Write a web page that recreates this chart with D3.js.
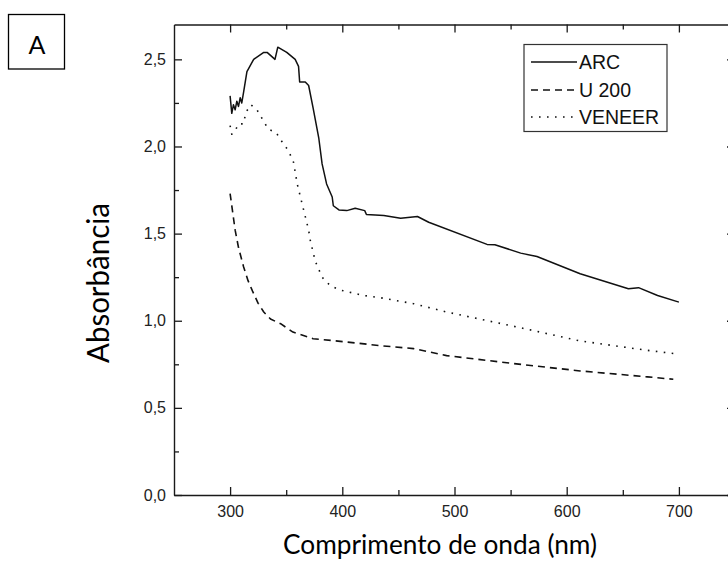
<!DOCTYPE html>
<html><head><meta charset="utf-8">
<script src="https://cdn.jsdelivr.net/npm/d3@7"></script>
<style>body{margin:0;background:#fff}svg{display:block}</style>
</head><body><svg id="c" width="728" height="581"></svg>
<script>
// ---- data ----
const arcWavelength = [300,301.5,303,304.5,306,307.5,309,310.4,312,315,321,330,333,340,342.5,350.5,358,361,362,367,370,374,379,382,386,391,392,397,404,411.5,420,421.5,437,452,467,477,529,536,559,573.5,612,655,664,681,700];
const arcAbs = [2.29,2.19,2.24,2.21,2.26,2.23,2.28,2.25,2.31,2.43,2.50,2.54,2.54,2.50,2.57,2.54,2.50,2.46,2.37,2.37,2.35,2.22,2.05,1.90,1.785,1.71,1.66,1.636,1.632,1.646,1.632,1.61,1.604,1.588,1.598,1.565,1.438,1.436,1.388,1.369,1.27,1.184,1.19,1.145,1.107];
const u200Wavelength = [300,304.5,307.5,312,316,320,325,330,336,345,356,374,404,434,463.5,493,553,612,672,695];
const u200Abs = [1.73,1.52,1.42,1.31,1.23,1.17,1.10,1.05,1.01,0.983,0.935,0.897,0.878,0.857,0.84,0.80,0.754,0.712,0.678,0.664];
const veneerWavelength = [300,301.5,304.5,307.5,312,314,318.5,324,334,341,347,352,356.5,360,365,370,371.5,376,382,389,397,419,434,463.5,493,553,612,672,700];
const veneerAbs = [2.12,2.07,2.09,2.13,2.13,2.195,2.24,2.21,2.10,2.08,2.02,1.976,1.91,1.78,1.65,1.52,1.46,1.34,1.25,1.203,1.178,1.145,1.132,1.098,1.05,0.968,0.884,0.83,0.808];
const seriesNames = ["ARC","U 200","VENEER"];
const xTickValues = [300,400,500,600,700];
const xMinorTicks = [350,450,550,650,750];
const yTickValues = [0,0.5,1.0,1.5,2.0,2.5];
const yTickLabels = ["0,0","0,5","1,0","1,5","2,0","2,5"];
const yMinorTicks = [0.25,0.75,1.25,1.75,2.25];
const xTitle = "Comprimento de onda (nm)";
const yTitle = "Absorbância";
const panelLabel = "A";

// ---- layout ----
const L = 174, R = 735, T = 24.5, B = 495;
const svg = d3.select("#c");
const x = d3.scaleLinear().domain([250, 750]).range([L, R]);
const y = d3.scaleLinear().domain([0, 2.7]).range([B, T]);
const tickFont = "'Liberation Sans', Arial, sans-serif";
const axisColor = "#1a1a1a";

function style(g){
  g.selectAll("path.domain").attr("stroke", axisColor).attr("stroke-width", 1.4);
  g.selectAll(".tick line").attr("stroke", axisColor).attr("stroke-width", 1.3);
  g.selectAll("text").attr("font-family", tickFont).attr("font-size", 16).attr("fill", "#222");
}
// bottom
const gb = svg.append("g").attr("transform", `translate(0,${B})`)
  .call(d3.axisBottom(x).tickValues(xTickValues).tickSize(-8).tickSizeOuter(0).tickPadding(11).tickFormat(d3.format("d")));
style(gb);
svg.append("g").attr("transform", `translate(0,${B})`)
  .call(d3.axisBottom(x).tickValues(xMinorTicks).tickSize(-5).tickSizeOuter(0).tickFormat("")).call(style)
  .select("path.domain").remove();
// top
svg.append("g").attr("transform", `translate(0,${T})`)
  .call(d3.axisTop(x).tickValues(xTickValues).tickSize(-8).tickSizeOuter(0).tickFormat("")).call(style);
svg.append("g").attr("transform", `translate(0,${T})`)
  .call(d3.axisTop(x).tickValues(xMinorTicks).tickSize(-5).tickSizeOuter(0).tickFormat("")).call(style)
  .select("path.domain").remove();
// left
const gl = svg.append("g").attr("transform", `translate(${L},0)`)
  .call(d3.axisLeft(y).tickValues(yTickValues).tickSize(-8).tickSizeOuter(0).tickPadding(8)
    .tickFormat((d,i) => yTickLabels[i]));
style(gl);
svg.append("g").attr("transform", `translate(${L},0)`)
  .call(d3.axisLeft(y).tickValues(yMinorTicks).tickSize(-5).tickSizeOuter(0).tickFormat("")).call(style)
  .select("path.domain").remove();
// right
svg.append("g").attr("transform", `translate(${R},0)`)
  .call(d3.axisRight(y).tickValues(yTickValues).tickSize(-8).tickSizeOuter(0).tickFormat("")).call(style);
svg.append("g").attr("transform", `translate(${R},0)`)
  .call(d3.axisRight(y).tickValues(yMinorTicks).tickSize(-5).tickSizeOuter(0).tickFormat("")).call(style)
  .select("path.domain").remove();

// ---- series ----
const line = d3.line().x(d => x(d[0])).y(d => y(d[1]));
const series = [
  {name: seriesNames[0], xs: arcWavelength, ys: arcAbs, dash: null, w: 1.5},
  {name: seriesNames[1], xs: u200Wavelength, ys: u200Abs, dash: "7,5", w: 1.6},
  {name: seriesNames[2], xs: veneerWavelength, ys: veneerAbs, dash: "1.6,6.4", w: 1.6}
];
series.forEach(s => {
  svg.append("path")
    .datum(s.xs.map((v,i) => [v, s.ys[i]]))
    .attr("d", line).attr("fill", "none").attr("stroke", "#111")
    .attr("stroke-width", s.w).attr("stroke-dasharray", s.dash)
    .attr("stroke-linejoin", "round");
});

// ---- legend ----
const lg = svg.append("g");
lg.append("rect").attr("x", 524).attr("y", 44.5).attr("width", 143).attr("height", 87)
  .attr("fill", "#fff").attr("stroke", "#333").attr("stroke-width", 1.2);
const rowY = [62, 90, 117];
series.forEach((s,i) => {
  lg.append("line").attr("x1", 531).attr("x2", 577).attr("y1", rowY[i]).attr("y2", rowY[i])
    .attr("stroke", "#111").attr("stroke-width", s.w).attr("stroke-dasharray", s.dash);
  lg.append("text").attr("x", 579).attr("y", rowY[i] + 7).text(s.name)
    .attr("font-family", tickFont).attr("font-size", 19.5).attr("fill", "#111");
});

// ---- titles ----
const titleFont = "Lato, 'Open Sans', sans-serif";
svg.append("text").attr("x", 440).attr("y", 554).attr("text-anchor", "middle")
  .attr("font-family", titleFont).attr("font-size", 27).attr("fill", "#000")
  .attr("textLength", 314).attr("lengthAdjust", "spacingAndGlyphs").text(xTitle);
svg.append("text").attr("transform", "translate(109,283) rotate(-90)").attr("text-anchor", "middle")
  .attr("font-family", titleFont).attr("font-size", 30).attr("fill", "#000")
  .attr("textLength", 160).attr("lengthAdjust", "spacingAndGlyphs").text(yTitle);

// ---- panel label ----
svg.append("rect").attr("x", 8.5).attr("y", 14.5).attr("width", 56).attr("height", 54.5)
  .attr("fill", "none").attr("stroke", "#000").attr("stroke-width", 1.3);
svg.append("text").attr("x", 37).attr("y", 54).attr("text-anchor", "middle")
  .attr("font-family", titleFont).attr("font-size", 25).attr("fill", "#000").text(panelLabel);
</script></body></html>
